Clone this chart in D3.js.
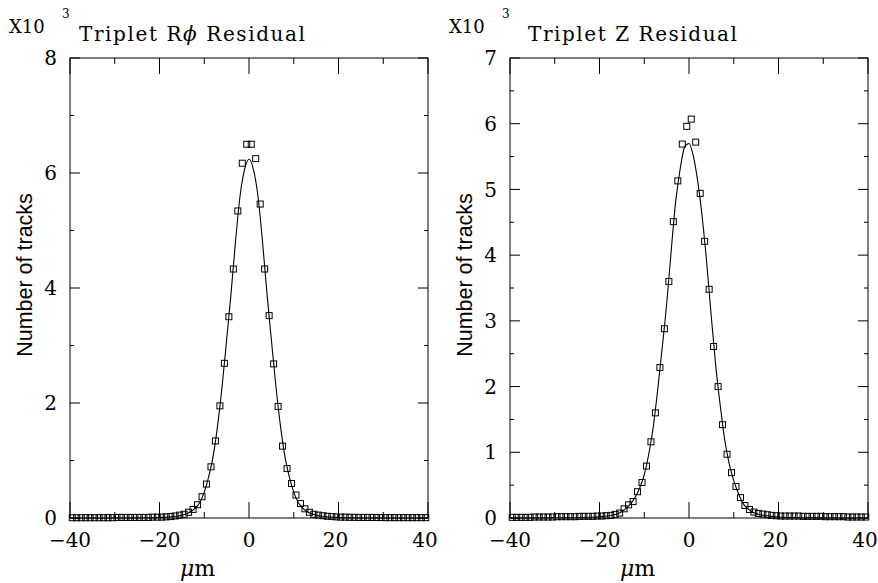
<html>
  <head>
    <script src="https://d3js.org/d3.v7.min.js"></script>
    <style>
      body { margin: 0; background: #fff; }
      .frame { fill: none; stroke: #000; stroke-width: 1px; }
      .tick { stroke: #000; stroke-width: 1px; }
      .ticklabel { font-family: "DejaVu Serif", serif; font-size: 20px; fill: #000; }
      .title { font-family: "DejaVu Serif", serif; font-size: 20px; fill: #000; }
      .ylabel { font-family: "Liberation Sans", Arial, sans-serif; font-size: 21.5px; fill: #000; }
      .point { fill: none; stroke: #000; stroke-width: 1px; }
      .fit { fill: none; stroke: #000; stroke-width: 1.1px; }
    </style>
  </head>
  <body>
    <svg id="chart" width="878" height="583"></svg>
    <script>
      // histogram bins: 1 um wide, -40 .. 40
      const binCenters = d3.range(-39.5, 40, 1);

      // counts in units of 10^3 tracks
      const countsRphi = [
        0.005, 0.005, 0.005, 0.005, 0.005, 0.005, 0.005, 0.005, 0.005, 0.005,
        0.01, 0.01, 0.01, 0.01, 0.01, 0.01, 0.01, 0.01,
        0.015, 0.015, 0.015,
        0.02, 0.025, 0.035, 0.05, 0.065, 0.1, 0.15, 0.23, 0.37, 0.59,
        0.89, 1.34, 1.95, 2.69, 3.5, 4.33, 5.34, 6.17, 6.5,
        6.5, 6.25, 5.46, 4.33, 3.52, 2.68, 1.94, 1.25, 0.86, 0.6,
        0.4, 0.25, 0.16, 0.1, 0.065, 0.05, 0.04, 0.03, 0.025, 0.02,
        0.015, 0.015, 0.012, 0.012, 0.01, 0.01, 0.01, 0.01, 0.008, 0.008,
        0.006, 0.006, 0.006, 0.006, 0.006, 0.006, 0.006, 0.006, 0.006, 0.006
      ];
      const countsZ = [
        0.01, 0.01, 0.01, 0.01, 0.01,
        0.015, 0.015, 0.015, 0.015, 0.015,
        0.02, 0.02, 0.02, 0.02, 0.02,
        0.025, 0.025, 0.025, 0.025,
        0.03, 0.03,
        0.035, 0.04, 0.055, 0.075, 0.14, 0.2, 0.25, 0.4, 0.54, 0.79,
        1.16, 1.6, 2.29, 2.88, 3.6, 4.51, 5.13, 5.69, 5.96,
        6.07, 5.72, 4.94, 4.21, 3.48, 2.61, 2.0, 1.42, 0.97, 0.69,
        0.48, 0.31, 0.19, 0.13, 0.09, 0.07, 0.06, 0.05, 0.04, 0.035,
        0.03, 0.03, 0.03, 0.03, 0.03,
        0.025, 0.025, 0.025, 0.025, 0.025,
        0.02, 0.02, 0.02, 0.02, 0.02,
        0.015, 0.015, 0.015, 0.015, 0.015
      ];

      // fitted curves, sampled from the plot
      const fitX = [
        -40, -30, -24, -20, -18, -16, -15, -14, -13, -12,
        -11, -10, -9, -8, -7, -6, -5, -4, -3, -2,
        -1, 0, 1, 2, 3, 4, 5, 6, 7, 8,
        9, 10, 11, 12, 13, 14, 15, 16, 18, 20,
        24, 30, 40
      ];
      const fitRphi = [
        0, 0.001, 0.004, 0.01, 0.018, 0.035, 0.05, 0.075, 0.11, 0.17,
        0.27, 0.45, 0.72, 1.08, 1.62, 2.3, 3.1, 3.92, 4.82, 5.6,
        6.06, 6.24, 6.06, 5.6, 4.82, 3.92, 3.1, 2.3, 1.62, 1.08,
        0.72, 0.45, 0.27, 0.17, 0.11, 0.075, 0.05, 0.035, 0.018, 0.01,
        0.004, 0.001, 0
      ];
      const fitZ = [
        0, 0.003, 0.008, 0.02, 0.035, 0.065, 0.1, 0.15, 0.22, 0.32,
        0.46, 0.66, 0.97, 1.38, 1.95, 2.58, 3.25, 4.05, 4.8, 5.3,
        5.64, 5.7, 5.5, 5.1, 4.55, 3.85, 3.05, 2.3, 1.7, 1.18,
        0.82, 0.57, 0.38, 0.23, 0.15, 0.1, 0.07, 0.05, 0.028, 0.016,
        0.007, 0.002, 0
      ];

      const xTickValues = [-40, -30, -20, -10, 0, 10, 20, 30, 40];
      const xLabelValues = [-40, -20, 0, 20, 40];
      const xTickLabels = ["\u221240", "\u221220", "0", "20", "40"];

      const svg = d3.select("#chart");
      const plotTop = 58;
      const plotBottom = 518;

      function drawPanel(opts) {
        const x = d3.scaleLinear().domain([-40, 40]).range([opts.left, opts.right]);
        const y = d3.scaleLinear().domain([0, opts.yMax]).range([plotBottom, plotTop]);
        const g = svg.append("g");

        // box
        g.append("rect")
          .attr("class", "frame")
          .attr("x", opts.left)
          .attr("y", plotTop)
          .attr("width", opts.right - opts.left)
          .attr("height", plotBottom - plotTop);

        // x ticks, inward, on bottom and top
        xTickValues.forEach((v) => {
          const len = v % 20 === 0 ? 16 : 6;
          g.append("line").attr("class", "tick")
            .attr("x1", x(v)).attr("x2", x(v))
            .attr("y1", plotBottom).attr("y2", plotBottom - len);
          g.append("line").attr("class", "tick")
            .attr("x1", x(v)).attr("x2", x(v))
            .attr("y1", plotTop).attr("y2", plotTop + len);
        });
        // positive labels sit a little left of their ticks in the original
        g.selectAll("text.xl")
          .data(xLabelValues)
          .join("text")
          .attr("class", "ticklabel xl")
          .attr("x", (d) => x(d) - (d > 0 ? 3 : 0))
          .attr("y", 547)
          .attr("text-anchor", "middle")
          .text((d, i) => xTickLabels[i]);

        // y ticks, inward, on left and right
        const yTicks = d3.range(0, opts.yMax + 1e-6, opts.minor);
        yTicks.forEach((v) => {
          const major = Math.abs(v / opts.major - Math.round(v / opts.major)) < 1e-6;
          const len = major ? 10 : 4;
          g.append("line").attr("class", "tick")
            .attr("x1", opts.left).attr("x2", opts.left + len)
            .attr("y1", y(v)).attr("y2", y(v));
          g.append("line").attr("class", "tick")
            .attr("x1", opts.right).attr("x2", opts.right - len)
            .attr("y1", y(v)).attr("y2", y(v));
        });
        g.selectAll("text.yl")
          .data(d3.range(0, opts.yMax + 1e-6, opts.major))
          .join("text")
          .attr("class", "ticklabel yl")
          .attr("x", opts.left - 13)
          .attr("y", (d) => y(d))
          .attr("dy", "0.36em")
          .attr("text-anchor", "end")
          .text((d) => d);

        // data points (open squares)
        g.selectAll("rect.point")
          .data(binCenters)
          .join("rect")
          .attr("class", "point")
          .attr("x", (d) => x(d) - 3)
          .attr("y", (d, i) => y(opts.counts[i]) - 3)
          .attr("width", 6)
          .attr("height", 6);

        // fit curve
        const line = d3.line()
          .x((d) => x(d))
          .y((d, i) => y(opts.fit[i]))
          .curve(d3.curveMonotoneX);
        g.append("path")
          .datum(fitX)
          .attr("class", "fit")
          .attr("d", line);

        // scale factor and title
        g.append("text").attr("class", "title")
          .attr("x", opts.left - 61).attr("y", 33)
          .style("font-size", "18px")
          .text("X10");
        g.append("text").attr("class", "title")
          .attr("x", opts.left - 8).attr("y", 18)
          .style("font-size", "12px")
          .text("3");
        const t = g.append("text").attr("class", "title")
          .attr("x", opts.titleX).attr("y", 41)
          .attr("textLength", opts.titleW)
          .attr("lengthAdjust", "spacing");
        opts.title.forEach((part) => {
          t.append("tspan")
            .style("font-style", part.italic ? "italic" : "normal")
            .text(part.s);
        });

        // axis titles
        g.append("text").attr("class", "ylabel")
          .attr("transform", "translate(" + (opts.left - 38) + ",275) rotate(-90)")
          .attr("text-anchor", "middle")
          .text("Number of tracks");
        const xl = g.append("text").attr("class", "ticklabel")
          .attr("x", x(-11.5)).attr("y", 576)
          .attr("text-anchor", "middle")
          .style("font-size", "22px");
        xl.append("tspan").style("font-style", "italic").text("\u03bc");
        xl.append("tspan").text("m");
      }

      drawPanel({
        left: 70, right: 428, yMax: 8, major: 2, minor: 1,
        counts: countsRphi, fit: fitRphi,
        titleX: 79, titleW: 226,
        title: [{ s: "Triplet R" }, { s: "\u03d5", italic: true }, { s: " Residual" }]
      });
      drawPanel({
        left: 510, right: 868, yMax: 7, major: 1, minor: 0.5,
        counts: countsZ, fit: fitZ,
        titleX: 528, titleW: 209,
        title: [{ s: "Triplet Z Residual" }]
      });
    </script>
  </body>
</html>
